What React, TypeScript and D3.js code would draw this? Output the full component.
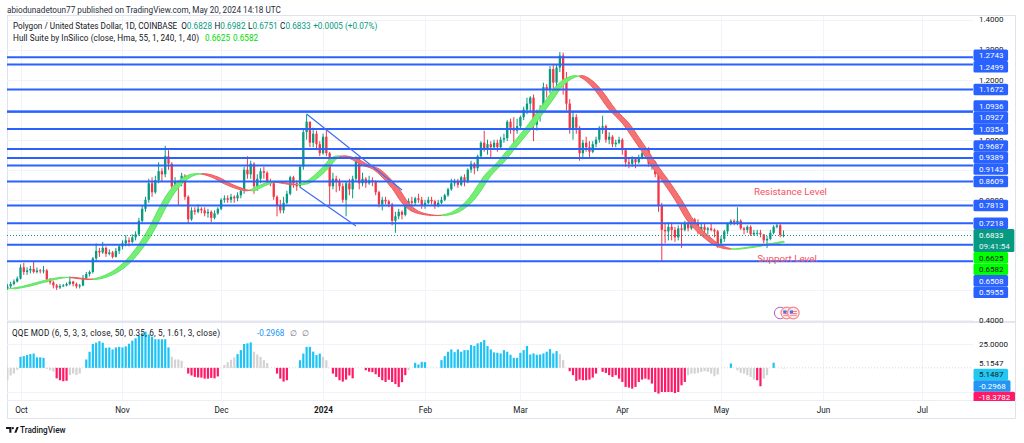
import React from 'react';
import * as d3 from 'd3';

// ---------------- data ----------------
const firstDate = '2023-09-27';
const firstOpen = 0.506;
const closes = [
  .512, .520, .528, .538, .575, .560, .565, .570, .560, .565,
  .562, .565, .535, .525, .515, .508, .513, .515, .520, .528,
  .520, .512, .515, .540, .553, .560, .605, .630, .625, .640,
  .620, .625, .610, .630, .645, .655, .665, .660, .675, .685,
  .730, .770, .800, .855, .825, .865, .895, .885, .945, .920,
  .845, .860, .855, .880, .810, .735, .765, .760, .770, .765,
  .755, .760, .740, .755, .770, .800, .805, .800, .810, .805,
  .815, .830, .900, .885, .920, .845, .870, .895, .890, .860,
  .855, .810, .780, .765, .790, .820, .875, .855, .845, .910,
  1.025, 1.060, .990, 1.020, .985, .955, 1.010, .955, .845, .870,
  .860, .845, .800, .855, .835, .870, .935, .855, .870, .855,
  .865, .860, .825, .785, .800, .795, .785, .730, .745, .760,
  .750, .785, .795, .790, .805, .800, .780, .790, .800, .795,
  .780, .790, .800, .815, .835, .855, .860, .850, .875, .860,
  .900, .920, .905, .945, .990, .970, .985, .975, .990, .975,
  1.000, 1.005, 1.060, 1.040, 1.030, 1.045, 1.075, 1.100, 1.120, 1.140,
  1.050, 1.085, 1.100, 1.175, 1.165, 1.235, 1.190, 1.240, 1.280, 1.200,
  1.120, 1.035, 1.075, 1.040, .955, .990, .975, .960, .985, 1.000,
  1.040, 1.045, 1.000, 1.010, .985, .990, 1.000, .965, .925, .920,
  .935, .925, .940, .955, .965, .920, .925, .885, .780, .700,
  .695, .710, .700, .675, .705, .700, .720, .705, .735, .720,
  .695, .710, .700, .705, .700, .695, .655, .670, .695, .720,
  .730, .725, .730, .705, .700, .710, .685, .690, .690, .685,
  .665, .670, .690, .710, .715, .6828, .6833,
];
const highs = [
  .520, .527, .535, .545, .585, .590, .575, .580, .595, .575,
  .570, .580, .570, .540, .530, .520, .520, .520, .525, .545,
  .530, .525, .520, .550, .560, .565, .610, .655, .640, .660,
  .645, .635, .630, .640, .652, .665, .682, .675, .685, .695,
  .740, .780, .810, .870, .875, .880, .925, .905, .980, .965,
  .925, .875, .865, .890, .885, .815, .775, .775, .785, .775,
  .775, .770, .765, .765, .775, .805, .815, .815, .820, .815,
  .825, .840, .910, .945, .930, .925, .885, .905, .910, .895,
  .870, .860, .815, .800, .810, .830, .880, .880, .865, .915,
  1.035, 1.084, 1.060, 1.040, 1.030, .995, 1.020, 1.035, .960, .890,
  .880, .870, .855, .860, .870, .880, .945, .945, .890, .875,
  .880, .875, .865, .830, .810, .810, .800, .790, .760, .770,
  .765, .790, .805, .810, .810, .820, .810, .800, .810, .810,
  .800, .800, .810, .820, .840, .870, .870, .870, .880, .885,
  .905, .930, .925, .950, .995, 1.030, 1.000, .995, 1.000, 1.000,
  1.010, 1.020, 1.065, 1.070, 1.075, 1.070, 1.080, 1.110, 1.140, 1.145,
  1.150, 1.100, 1.115, 1.190, 1.185, 1.245, 1.250, 1.250, 1.292, 1.290,
  1.225, 1.135, 1.095, 1.085, 1.045, 1.000, 1.010, .995, .995, 1.010,
  1.045, 1.080, 1.050, 1.025, 1.015, 1.000, 1.010, 1.005, .970, .940,
  .945, .940, .950, .960, .975, .975, .935, .930, .895, .790,
  .720, .725, .725, .710, .715, .720, .730, .725, .740, .740,
  .735, .720, .720, .710, .720, .705, .700, .680, .700, .725,
  .735, .735, .775, .735, .710, .715, .715, .700, .700, .700,
  .685, .680, .700, .715, .722, .720, .6982,
];
const lows = [
  .500, .505, .515, .525, .535, .550, .550, .555, .555, .555,
  .555, .555, .525, .518, .505, .500, .503, .510, .512, .515,
  .512, .505, .505, .512, .535, .545, .555, .595, .610, .620,
  .610, .615, .605, .608, .620, .635, .645, .645, .655, .665,
  .680, .720, .760, .790, .810, .820, .855, .860, .875, .900,
  .830, .835, .780, .845, .800, .720, .730, .750, .755, .755,
  .745, .740, .725, .735, .750, .765, .790, .790, .790, .790,
  .795, .805, .820, .870, .870, .820, .830, .855, .870, .850,
  .845, .800, .745, .755, .755, .785, .815, .840, .830, .840,
  .900, 1.000, .975, .975, .965, .945, .950, .945, .780, .835,
  .825, .830, .790, .745, .815, .805, .860, .835, .845, .840,
  .850, .845, .815, .775, .765, .785, .775, .715, .690, .735,
  .735, .745, .780, .780, .780, .790, .770, .770, .785, .785,
  .770, .775, .785, .795, .810, .830, .845, .840, .845, .845,
  .855, .890, .885, .895, .940, .960, .950, .940, .970, .960,
  .970, .990, .995, 1.020, .990, 1.020, 1.035, 1.065, 1.085, 1.095,
  .995, 1.030, 1.060, 1.090, 1.140, 1.155, 1.170, 1.160, 1.225, 1.150,
  1.098, 1.020, 1.000, 1.020, .930, .935, .960, .940, .955, .975,
  .990, 1.020, .990, .985, .975, .975, .985, .950, .910, .905,
  .910, .905, .920, .935, .945, .910, .900, .875, .760, .595,
  .655, .665, .665, .660, .665, .640, .695, .695, .700, .705,
  .685, .685, .690, .685, .695, .675, .640, .645, .660, .685,
  .715, .715, .715, .700, .685, .690, .680, .680, .680, .675,
  .655, .640, .665, .685, .705, .675, .6751,
];

const levelPrices = [1.2743, 1.2499, 1.1672, 1.0936, 1.0927, 1.0354, 0.9687, 0.9389, 0.9143, 0.8609, 0.7813, 0.7218, 0.6508, 0.5955];

const hullDates = [
  '2023-09-27', '2023-10-02', '2023-10-07', '2023-10-12', '2023-10-15', '2023-10-19', '2023-10-22', '2023-10-25', '2023-10-29',
  '2023-11-02', '2023-11-06', '2023-11-09', '2023-11-12', '2023-11-15', '2023-11-18', '2023-11-21', '2023-11-24', '2023-11-28',
  '2023-12-02', '2023-12-06', '2023-12-09', '2023-12-12', '2023-12-16', '2023-12-19', '2023-12-23', '2023-12-26', '2023-12-29',
  '2024-01-01', '2024-01-03', '2024-01-05', '2024-01-09', '2024-01-13', '2024-01-16', '2024-01-19', '2024-01-22', '2024-01-25',
  '2024-01-28', '2024-02-01', '2024-02-05', '2024-02-09', '2024-02-13', '2024-02-16', '2024-02-19', '2024-02-23', '2024-02-26',
  '2024-02-29', '2024-03-03', '2024-03-06', '2024-03-09', '2024-03-12', '2024-03-15', '2024-03-18', '2024-03-21', '2024-03-24',
  '2024-03-28', '2024-04-01', '2024-04-04', '2024-04-07', '2024-04-10', '2024-04-13', '2024-04-17', '2024-04-21', '2024-04-25',
  '2024-04-29', '2024-05-03', '2024-05-07', '2024-05-13', '2024-05-17', '2024-05-20',
];
const hullValues = [
  0.503, 0.513, 0.528, 0.540, 0.542, 0.537, 0.535, 0.542, 0.562,
  0.598, 0.652, 0.705, 0.770, 0.825, 0.862, 0.882, 0.887, 0.876,
  0.853, 0.836, 0.830, 0.845, 0.860, 0.856, 0.850, 0.856, 0.878,
  0.910, 0.935, 0.946, 0.938, 0.915, 0.903, 0.875, 0.838, 0.790,
  0.762, 0.750, 0.748, 0.758, 0.789, 0.830, 0.880, 0.925, 0.965,
  1.005, 1.045, 1.090, 1.135, 1.180, 1.205, 1.213, 1.195, 1.160,
  1.100, 1.055, 1.008, 0.960, 0.910, 0.865, 0.800, 0.727, 0.682,
  0.649, 0.636, 0.639, 0.649, 0.656, 0.6625,
];
const hullLabelValues = [0.6625, 0.6582];

const trendStartDates = ['2023-12-27', '2023-12-25'];
const trendStartPrices = [1.0855, 0.8416];
const trendEndDates = ['2024-01-25', '2024-01-11'];
const trendEndPrices = [0.8326, 0.7128];

const annotationTexts = ['Resistance Level', 'Support Level'];
const annotationDates = ['2024-05-11', '2024-05-12'];
const annotationPrices = [0.829, 0.603];

const qqeValues = [
  -13, -8, -6, -2,
  11.6, 12.3, 13.4, 14.4, 15, 11, 11, 10.5,
  -1, -2.5, -4, -11, -13, -14, -13.5, -7.5, -6, -7.5, -6,
  0,
  8.8, 16.9, 25, 26.4, 28, 26.4, 21, 21.4, 19.3, 21.4, 22, 21.4, 22.5, 25.3, 28.5, 31, 33.8, 36.5, 38, 35, 32.7, 30, 30, 30, 30, 21.4,
  11.6, 8.8, 8.8, 7.4,
  0,
  -6, -8, -9.5, -10, -10.2, -11.3, -11.3, -10.5, -11, -9,
  0,
  3, 6, 8.5, 11, 14.4, 18.6, 25, 25.7, 26.7, 16.9, 14, 11.6, 8, 5,
  0, 0,
  -6, -11.3, -14.4, -13,
  0, 0, 0,
  8, 15, 22, 22, 17, 13.4, 15, 11.6, 8,
  0,
  -6, -9.5, -13, -14.4, -12.3, -8, -11,
  0, 0, 0,
  -2.5, -4, -4.5, -6.7, -9.5, -13, -14.8, -12.5, -14.8, -17, -20,
  -15, -7.7, -2.5,
  0,
  5.3, 3.5, 6.3, 6,
  0, 0, 0, 0,
  8.1, 12.3, 16.9, 19.3, 16.5, 19.3, 16.9, 18.6, 18.6, 23.9, 22.9, 25.7, 27, 29.2, 22.9, 19.3, 16.2, 15.8,
  15.1, 18.6, 16.9, 13.7, 10.5, 10.5, 15.8, 18.6, 22.9, 14, 15.1, 13.7, 14, 15.1, 16.9, 19.7, 15.1, 17.6,
  14.4, 8.1,
  0,
  -3.5, -7.7, -13.7, -12.3, -13, -13, -12.3, -10.2, -6,
  0,
  -4.2, -5.3, -7.7, -9.5, -7.7, -11.3, -14.8, -20, -20.7, -21.8, -20, -14.8, -12.3,
  -11.3, -12.3, -16.5, -25.3, -27, -25.3, -25.3, -25.3, -25.3, -26.4, -25.3, -18.3, -14.8,
  -7.7, -6, -6, -5.3, -4.2, -3.5, -4.2, -6, -8.8, -7,
  0, 0, 0,
  4.6,
  0,
  -2.5, -5.3, -6, -7.7, -9.5, -12.3, -13, -19.3, -11.3, -7.7,
  0,
  5.4,
  0, 0, -0.3,
];
const qqeColorCodes = (
  'gggg' + 'bbbbbbbb' + 'gggppppgggg' + 'n' +
  'bbbbbbbbbbbbbbbbbbbbbbbbbb' + 'gggg' + 'n' + 'pppppppppp' + 'n' +
  'ggggbbbbbggggg' + 'nn' + 'pppp' + 'nnn' + 'bbbbbbbgg' + 'n' + 'ppppppp' + 'nnn' +
  'ppppppppppp' + 'ppg' + 'n' + 'bbbb' + 'nnnn' +
  'bbbbbbbbbbbbbbbbbbbbbbbbbbbbbbbbbbbb' + 'gg' + 'n' + 'ppppppppp' + 'n' +
  'pppppppppppppppppppppppppp' + 'gggggggggg' + 'nnn' + 'b' + 'n' +
  'ggggggppgg' + 'n' + 'b' + 'nng'
).split('');
const qqeLegendValue = '-0.2968';
const qqeTickValues = [25];
const qqePlainLabel = 5.1547;
const qqeLabelValues = [5.1487, -0.2968, -18.3782];

const monthDates = ['2023-10-01', '2023-11-01', '2023-12-01', '2024-01-01', '2024-02-01', '2024-03-01', '2024-04-01', '2024-05-01', '2024-06-01', '2024-07-01'];
const monthLabels = ['Oct', 'Nov', 'Dec', '2024', 'Feb', 'Mar', 'Apr', 'May', 'Jun', 'Jul'];
const priceTicks = [0.4, 0.5, 0.6, 0.7, 0.8, 0.9, 1.0, 1.1, 1.2, 1.3, 1.4];
const eventDates = ['2024-05-19', '2024-05-21', '2024-05-23'];
const countdownText = '09:41:54';

// ---------------- helpers ----------------
const FONT = 'Roboto, "Liberation Sans", Arial, sans-serif';
const parse = (s: string) => new Date(s + 'T00:00:00Z');
const textW = (s: string, fs = 8) => {
  let w = 0;
  for (const ch of s) w += /[0-9]/.test(ch) ? 0.562 : ch === '.' ? 0.263 : ch === ':' ? 0.242 : ch === '-' ? 0.3 : 0.5;
  return w * fs;
};

type Lbl = { text: string; ideal: number; h: number; y: number; bg: string; fg: string };

function clusterResolve(items: Lbl[]) {
  let clusters = items.map(it => ({ items: [it], center: it.ideal, H: it.h }));
  let changed = true;
  while (changed) {
    changed = false;
    for (let i = 0; i < clusters.length - 1; i++) {
      const a = clusters[i], b = clusters[i + 1];
      if (a.center + a.H / 2 > b.center - b.H / 2) {
        const its = [...a.items, ...b.items];
        const center = d3.mean(its, d => d.ideal) as number;
        clusters.splice(i, 2, { items: its, center, H: a.H + b.H });
        changed = true;
        break;
      }
    }
  }
  clusters.forEach(c => {
    let top = c.center - c.H / 2;
    c.items.forEach(it => { it.y = top + it.h / 2; top += it.h; });
  });
}

export default function App() {
  const W = 1024, H = 443;
  const L = 7, R = 973, FR = 1016;
  const mainTop = 15, mainBottom = 322, qBottom = 400, frameBottom = 419;
  const LH = 11.5;

  const x = d3.scaleUtc().domain([parse('2023-10-01'), parse('2024-05-01')]).range([20.5, 721]);
  const y = d3.scaleLinear().domain([0.4, 1.4]).range([320, 19.5]);
  const yq = d3.scaleLinear().domain([-25, 25]).range([391.7, 344]);

  const t0 = parse(firstDate);
  const dates = closes.map((_, i) => d3.utcDay.offset(t0, i));
  const opens = closes.map((_, i) => (i === 0 ? firstOpen : closes[i - 1]));
  const lastIdx = closes.length - 1;
  const lastClose = closes[lastIdx];
  const bw = 2.3;

  // candles
  const candleEls = closes.map((c, i) => {
    const o = opens[i];
    const up = c >= o;
    const col = up ? '#089981' : '#f23645';
    const cx = x(dates[i]);
    const top = y(Math.max(o, c)), bot = y(Math.min(o, c));
    return (
      <g key={'c' + i}>
        <line x1={cx} x2={cx} y1={y(highs[i])} y2={y(lows[i])} stroke={col} strokeWidth={1} />
        <rect x={cx - bw / 2} y={top} width={bw} height={Math.max(0.9, bot - top)} fill={col} />
      </g>
    );
  });

  // hull band
  const hullPts = hullDates.map((d, i) => [x(parse(d)), y(hullValues[i])] as [number, number]);
  const shift = x(d3.utcDay.offset(t0, 2)) - x(t0);
  const shifted = hullPts.map(([px, py]) => [px + shift, py] as [number, number]);
  const lineGen = d3.line().curve(d3.curveCatmullRom.alpha(0.5));
  const topPath = lineGen(hullPts) as string;
  const botPath = lineGen(shifted) as string;
  const botRev = lineGen(shifted.slice().reverse()) as string;
  const bandPath = topPath + 'L' + botRev.slice(1) + 'Z';
  const runs: { from: number; to: number; up: boolean }[] = [];
  {
    let start = hullPts[0][0];
    let up = hullValues[1] > hullValues[0];
    for (let i = 1; i < hullValues.length - 1; i++) {
      const nextUp = hullValues[i + 1] > hullValues[i];
      if (nextUp !== up) {
        const bx = x(d3.utcDay.offset(parse(hullDates[i]), 1));
        runs.push({ from: start, to: bx, up });
        start = bx;
        up = nextUp;
      }
    }
    runs.push({ from: start, to: x(dates[lastIdx]) + 1, up });
  }

  // labels on main price axis
  const closeY = y(lastClose);
  const closeTop = closeY - LH / 2, closeBottom = closeTop + 2 * LH;
  const others: Lbl[] = [
    ...levelPrices.map(p => ({ text: p.toFixed(4), ideal: y(p), h: LH, y: 0, bg: '#2962ff', fg: '#ffffff' })),
    ...hullLabelValues.map(p => ({ text: p.toFixed(4), ideal: y(p), h: LH, y: 0, bg: '#00ff00', fg: '#131722' })),
  ].sort((a, b) => a.ideal - b.ideal);
  const above = others.filter(o => o.ideal < closeY);
  const below = others.filter(o => o.ideal >= closeY);
  clusterResolve(above);
  clusterResolve(below);
  {
    let lim = closeTop;
    for (let i = above.length - 1; i >= 0; i--) {
      const it = above[i];
      if (it.y + LH / 2 > lim) it.y = lim - LH / 2;
      lim = it.y - LH / 2;
    }
    lim = closeBottom;
    for (const it of below) {
      if (it.y - LH / 2 < lim) it.y = lim + LH / 2;
      lim = it.y + LH / 2;
    }
  }
  const labelRects: [number, number][] = [
    ...others.map(l => [l.y - LH / 2, l.y + LH / 2] as [number, number]),
    [closeTop, closeBottom],
  ];
  const inRect = (v: number) => labelRects.some(([a, b]) => v >= a && v <= b);
  const tickCovered = (ty: number) => inRect(ty - 2.5) && inRect(ty) && inRect(ty + 2.5);

  // QQE labels (pushed downward)
  const qLabels: Lbl[] = [
    { text: qqePlainLabel.toFixed(4), ideal: yq(qqePlainLabel), h: LH, y: 0, bg: 'none', fg: '#131722' },
    { text: qqeLabelValues[0].toFixed(4), ideal: yq(qqeLabelValues[0]), h: LH, y: 0, bg: '#22c7f2', fg: '#131722' },
    { text: qqeLabelValues[1].toFixed(4), ideal: yq(qqeLabelValues[1]), h: LH, y: 0, bg: '#2196f3', fg: '#ffffff' },
    { text: qqeLabelValues[2].toFixed(4), ideal: yq(qqeLabelValues[2]), h: LH, y: 0, bg: '#ff1a67', fg: '#ffffff' },
  ];
  {
    let lim = -Infinity;
    for (const it of qLabels) {
      it.y = Math.max(it.ideal, lim + LH / 2);
      lim = it.y + LH / 2;
    }
  }

  const labelX = 973.5, textX = 979;
  const renderLabel = (l: Lbl, k: string) => (
    <g key={k}>
      {l.bg !== 'none' && (
        <rect x={labelX} y={l.y - l.h / 2} width={textW(l.text) + 10} height={l.h} rx={1.5} fill={l.bg} />
      )}
      <text x={textX} y={l.y + 2.9} fontSize={8} fill={l.fg}>{l.text}</text>
    </g>
  );

  const monthXs = monthDates.map(d => Math.round(x(parse(d))) + 0.5);
  const dark = '#131722';
  const teal = '#089981';

  return (
    <svg width={W} height={H} style={{ position: 'absolute', left: 0, top: 0, background: '#fff' }} fontFamily={FONT}>
      <defs>
        <clipPath id="mainClip"><rect x={L} y={mainTop} width={R - L} height={mainBottom - mainTop} /></clipPath>
        <clipPath id="qClip"><rect x={L} y={mainBottom} width={R - L} height={qBottom - mainBottom} /></clipPath>
        <clipPath id="axisClip"><rect x={R} y={mainTop} width={FR - R} height={qBottom - mainTop + 1} /></clipPath>
        {runs.map((r, i) => (
          <clipPath id={'run' + i} key={'cp' + i}>
            <rect x={r.from} y={mainTop} width={Math.max(0, r.to - r.from)} height={mainBottom - mainTop} />
          </clipPath>
        ))}
      </defs>
      <rect x={0} y={0} width={W} height={H} fill="#ffffff" />

      {/* header */}
      <text x={7} y={12.5} fontSize={8.2} fill="#2a2e39">abiodunadetoun77 published on TradingView.com, May 20, 2024 14:18 UTC</text>

      {/* frame */}
      <rect x={L + 0.5} y={mainTop + 0.5} width={FR - L - 1} height={frameBottom - mainTop - 1} fill="none" stroke="#e0e3eb" />

      {/* grid */}
      <g clipPath="url(#mainClip)">
        {priceTicks.map((p, i) => (
          <line key={'hg' + i} x1={L} x2={R} y1={Math.round(y(p)) + 0.5} y2={Math.round(y(p)) + 0.5} stroke="#f0f3fa" />
        ))}
      </g>
      {monthXs.map((mx, i) => (
        <line key={'vg' + i} x1={mx} x2={mx} y1={mainTop + 1} y2={qBottom} stroke="#f0f3fa" />
      ))}
      <g clipPath="url(#qClip)">
        {[25, -25].map((v, i) => (
          <line key={'qg' + i} x1={L} x2={R} y1={Math.round(yq(v)) + 0.5} y2={Math.round(yq(v)) + 0.5} stroke="#f0f3fa" />
        ))}
        <line x1={L} x2={R} y1={yq(0)} y2={yq(0)} stroke="#c9ccd6" strokeDasharray="1,2" strokeWidth={0.8} />
      </g>

      {/* main pane content */}
      <g clipPath="url(#mainClip)">
        {candleEls}
        {runs.map((r, i) => (
          <g key={'band' + i} clipPath={`url(#run${i})`}>
            <path d={bandPath} fill={r.up ? '#74ee74' : '#f47272'} stroke="none" />
            <path d={topPath} fill="none" stroke={r.up ? '#5fe45f' : '#f05a5a'} strokeWidth={1} />
            <path d={botPath} fill="none" stroke={r.up ? '#5fe45f' : '#f05a5a'} strokeWidth={1} />
          </g>
        ))}
        {levelPrices.map((p, i) => (
          <line key={'lv' + i} x1={L} x2={R} y1={y(p)} y2={y(p)} stroke="#2962ff" strokeWidth={2} />
        ))}
        {trendStartDates.map((d, i) => (
          <line key={'tl' + i} x1={x(parse(d))} y1={y(trendStartPrices[i])} x2={x(parse(trendEndDates[i]))} y2={y(trendEndPrices[i])}
            stroke="#3f6cf5" strokeWidth={1.2} />
        ))}
        <line x1={L} x2={R} y1={Math.round(closeY) + 0.5} y2={Math.round(closeY) + 0.5} stroke={teal} strokeDasharray="1,2" strokeWidth={1} />
        {annotationTexts.map((t, i) => (
          <text key={'an' + i} x={x(parse(annotationDates[i]))} y={y(annotationPrices[i]) + 3.5} fontSize={9.8} fill="#f7525f">{t}</text>
        ))}
        {eventDates.map((d, i) => {
          const ex = x(parse(d)), ey = 313;
          if (i === 0) {
            return <circle key={'ev' + i} cx={ex} cy={ey} r={5.8} fill="#fff" stroke="#b45fc9" strokeWidth={1} />;
          }
          return (
            <g key={'ev' + i}>
              <circle cx={ex} cy={ey} r={5.8} fill="#fde8e9" stroke="#f7888e" strokeWidth={1.2} />
              <rect x={ex - 3.5} y={ey - 2.6} width={7} height={5.2} fill="#fff" />
              <line x1={ex - 3.5} x2={ex + 3.5} y1={ey - 1.6} y2={ey - 1.6} stroke="#f06070" strokeWidth={0.9} />
              <line x1={ex - 3.5} x2={ex + 3.5} y1={ey + 0.4} y2={ey + 0.4} stroke="#f06070" strokeWidth={0.9} />
              <line x1={ex - 3.5} x2={ex + 3.5} y1={ey + 2.2} y2={ey + 2.2} stroke="#f06070" strokeWidth={0.9} />
              <rect x={ex - 3.5} y={ey - 2.6} width={3.2} height={2.8} fill="#3d7be6" />
            </g>
          );
        })}
      </g>

      {/* legends main */}
      <text x={13} y={28.5} fontSize={8.2} fill={dark}>
        <tspan>Polygon / United States Dollar, 1D, COINBASE</tspan>
        <tspan dx={4}>O</tspan><tspan fill={teal}>{opens[lastIdx].toFixed(4)}</tspan>
        <tspan dx={2.5}>H</tspan><tspan fill={teal}>{highs[lastIdx].toFixed(4)}</tspan>
        <tspan dx={2.5}>L</tspan><tspan fill={teal}>{lows[lastIdx].toFixed(4)}</tspan>
        <tspan dx={2.5}>C</tspan><tspan fill={teal}>{lastClose.toFixed(4)}</tspan>
        <tspan dx={2.5} fill={teal}>+0.0005 (+0.07%)</tspan>
      </text>
      <text x={13} y={40.5} fontSize={8.2} fill={dark} textLength={186} lengthAdjust="spacing">
        Hull Suite by InSilico (close, Hma, 55, 1, 240, 1, 40)
      </text>
      <text x={205} y={40.5} fontSize={8.2} fill="#00dd00">{hullLabelValues[0].toFixed(4)}</text>
      <text x={233} y={40.5} fontSize={8.2} fill="#00dd00">{hullLabelValues[1].toFixed(4)}</text>

      {/* pane separators */}
      <line x1={L} x2={FR} y1={mainBottom} y2={mainBottom} stroke="#dcdde8" strokeWidth={1.5} />
      <line x1={L} x2={FR} y1={qBottom + 0.5} y2={qBottom + 0.5} stroke="#eceef3" />

      {/* QQE bars */}
      <g clipPath="url(#qClip)">
        {qqeValues.map((v, i) => {
          const code = qqeColorCodes[i];
          if (code === 'n' || v === 0) return null;
          const col = code === 'b' ? '#1ec3f5' : code === 'p' ? '#ff1a67' : '#d3d3d6';
          const cx = x(dates[i]);
          const y1 = yq(Math.max(v, 0)), y2 = yq(Math.min(v, 0));
          return <rect key={'q' + i} x={cx - 1.1} y={y1} width={2.2} height={Math.max(0.6, y2 - y1)} fill={col} />;
        })}
      </g>
      <text x={12} y={336} fontSize={8.2} fill={dark} textLength={208} lengthAdjust="spacing">
        QQE MOD (6, 5, 3, 3, close, 50, 0.35, 6, 5, 1.61, 3, close)
      </text>
      <text x={257} y={336} fontSize={8.2} fill="#2196f3">{qqeLegendValue}</text>
      <text x={290} y={336} fontSize={8.2} fill="#6a6d78">∅</text>
      <text x={302} y={336} fontSize={8.2} fill="#6a6d78">∅</text>

      {/* price axis */}
      <g clipPath="url(#axisClip)">
        {priceTicks.filter(p => !tickCovered(y(p))).map((p, i) => (
          <text key={'pt' + i} x={textX} y={y(p) + 2.9} fontSize={8} fill={dark}>{p.toFixed(4)}</text>
        ))}
        {others.map((l, i) => renderLabel(l, 'ol' + i))}
        <g>
          <rect x={labelX} y={closeTop} width={textW(countdownText) + 10} height={2 * LH} rx={1.5} fill={teal} />
          <text x={textX} y={closeY + 2.9} fontSize={8} fill="#fff">{lastClose.toFixed(4)}</text>
          <text x={textX} y={closeY + LH + 2.6} fontSize={8} fill="#e6f5f2">{countdownText}</text>
        </g>
        {qqeTickValues.map((v, i) => (
          <text key={'qt' + i} x={textX} y={yq(v) + 2.9} fontSize={8} fill={dark}>{v.toFixed(4)}</text>
        ))}
        {qLabels.map((l, i) => renderLabel(l, 'ql' + i))}
      </g>

      {/* time axis */}
      {monthLabels.map((m, i) => (
        <text key={'ml' + i} x={monthXs[i]} y={412.5} fontSize={8.2} textAnchor="middle" fill={dark}
          fontWeight={m === '2024' ? 700 : 400}>{m}</text>
      ))}

      {/* logo */}
      <g fill="#131722">
        <path d="M6 427h5.4v5.8h-2.1v-3.7H6z" />
        <circle cx={12.8} cy={428.2} r={1.15} />
        <path d="M14.3 432.8l2.3-5.8h2.1l-2.3 5.8z" />
      </g>
      <text x={20} y={433} fontSize={8.2} fill="#131722" fontWeight={500}>TradingView</text>
    </svg>
  );
}
